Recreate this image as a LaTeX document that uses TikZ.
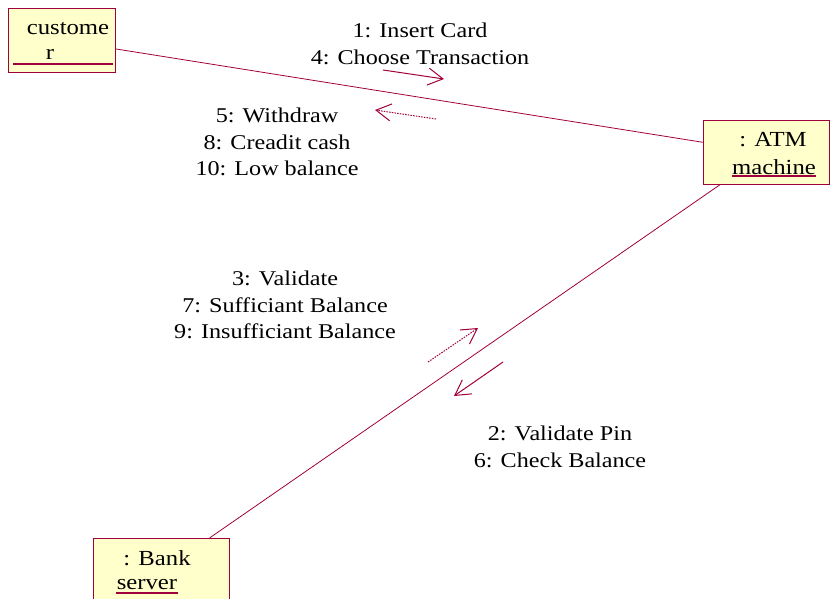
\documentclass[tikz,border=0pt]{standalone}
\usepackage{fontspec}
\setmainfont{Liberation Serif}[FakeStretch=1.15]
\usetikzlibrary{arrows.meta}
\definecolor{umlred}{RGB}{160,0,60}
\definecolor{umlfill}{RGB}{255,255,204}
\begin{document}
\begin{tikzpicture}[x=1pt,y=-1pt,
  obj/.style={draw=umlred,fill=umlfill,line width=0.8pt,inner sep=0pt,anchor=north west},
  lbl/.style={font=\fontsize{21}{26.5}\selectfont,align=center,inner sep=0pt},
  otext/.style={font=\fontsize{21.5}{26}\selectfont,inner sep=0pt},
  link/.style={draw=umlred,line width=0.8pt},
  uline/.style={draw=umlred,line width=1.8pt},
  msg/.style={draw=umlred,line width=1pt,-{Straight Barb[length=15pt,width=17pt,line width=1pt]}},
  dmsg/.style={msg,dash pattern=on 1.5pt off 1.2pt}]
\useasboundingbox (0,0) rectangle (830,599);
% objects
\node[obj,minimum width=107pt,minimum height=64pt] (cust) at (8,8) {};
\node[obj,minimum width=126pt,minimum height=64pt] (atm) at (703,120) {};
\node[obj,minimum width=136pt,minimum height=66pt] (bank) at (93,538) {};
\node[otext] (ct1) at (68,29) {custome};
\node[otext] (ct2) at (50,54) {r};
\node[otext] (at1) at (773,140) {: ATM};
\node[otext] (at2) at (774,167) {machine};
\node[otext] (bt1) at (157,558) {: Bank};
\node[otext] (bt2) at (147,585) {server};
\draw[uline] (13,64) -- (113,64);
\draw[uline] (732,176) -- (816,176);
\draw[uline] (116,593) -- (178,593);
% links
\draw[link] (cust) -- (atm);
\draw[link] (atm) -- (bank);
% messages
\coordinate (m1s) at (383,70); \coordinate (m1e) at (444,79);
\coordinate (m2s) at (436,119); \coordinate (m2e) at (375,110);
\coordinate (m3s) at (428,362); \coordinate (m3e) at (478,328);
\coordinate (m4s) at (503,362); \coordinate (m4e) at (454,396);
\draw[msg] (m1s) -- (m1e);
\draw[dmsg] (m2s) -- (m2e);
\draw[dmsg] (m3s) -- (m3e);
\draw[msg] (m4s) -- (m4e);
% labels
\node[lbl] (l1) at (420,44) {1: Insert Card\\4: Choose Transaction};
\node[lbl] (l2) at (277,142) {5: Withdraw\\8: Creadit cash\\10: Low balance};
\node[lbl] (l3) at (285,305) {3: Validate\\7: Sufficiant Balance\\9: Insufficiant Balance};
\node[lbl] (l4) at (560,447) {2: Validate Pin\\6: Check Balance};
\end{tikzpicture}
\end{document}
